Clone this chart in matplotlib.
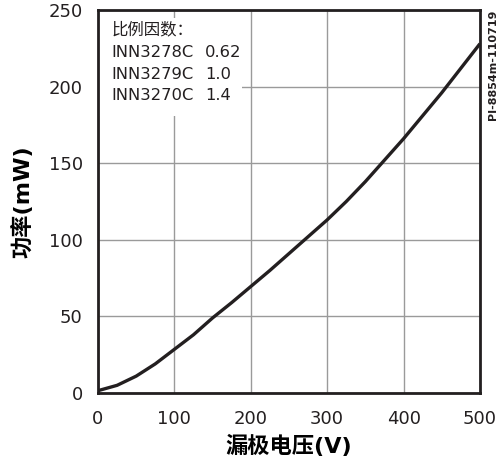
import matplotlib
matplotlib.use("Agg")
import matplotlib.pyplot as plt
from matplotlib.patches import Rectangle

plt.rcParams['font.family'] = ['DejaVu Sans', 'Noto Sans CJK SC']

# drain voltage (V) vs power (mW)
voltage = [0, 25, 50, 75, 100, 125, 150, 175, 200, 225, 250, 275,
           300, 325, 350, 375, 400, 425, 450, 475, 500]
power = [1.5, 5, 11, 19, 28.5, 38, 49, 59, 69.5, 80, 91, 102,
         113, 125, 138, 152, 166, 181, 196, 212, 228]

x_ticks = [0, 100, 200, 300, 400, 500]
y_ticks = [0, 50, 100, 150, 200, 250]

legend_title = "比例因数："
legend_rows = [("INN3278C", "0.62"), ("INN3279C", "1.0"), ("INN3270C", "1.4")]

fig = plt.figure(figsize=(5.01, 4.66), dpi=100)
ax = fig.add_axes([0.1956, 0.1567, 0.7624, 0.8218])

ax.plot(voltage, power, color="#231f20", linewidth=2.4, solid_capstyle="butt", zorder=4)

ax.set_xlim(0, 500)
ax.set_ylim(0, 250)
ax.set_xticks(x_ticks)
ax.set_yticks(y_ticks)
ax.tick_params(length=0, labelsize=13, colors="#231f20")
ax.tick_params(axis="x", pad=12)
ax.tick_params(axis="y", pad=11)
ax.grid(True, color="#9a9a9a", linewidth=1.0)
ax.set_axisbelow(True)
for sp in ax.spines.values():
    sp.set_linewidth(2.0)
    sp.set_color("#231f20")

ax.set_xlabel("漏极电压(V)", fontsize=16, fontweight="bold", labelpad=5)
ax.set_ylabel("功率(mW)", fontsize=16, fontweight="bold", labelpad=11)

# white box behind the legend text hides the grid
ax.add_patch(Rectangle((0, 181), 188, 64, transform=ax.transData,
                       facecolor="white", edgecolor="none", zorder=2))

ax.text(18, 237, legend_title, fontsize=11.8, color="#231f20", va="center", zorder=3)
for i, (part, factor) in enumerate(legend_rows):
    yy = 222 - i * 14
    ax.text(18, yy, part, fontsize=11.8, color="#231f20", va="center", zorder=3)
    ax.text(140, yy, factor, fontsize=11.8, color="#231f20", va="center", zorder=3)

fig.text(0.984, 0.98, "PI-8854m-110719", rotation=90, fontsize=8,
         fontweight="bold", ha="center", va="top", color="#231f20")

fig.savefig("out.png", dpi=100)
